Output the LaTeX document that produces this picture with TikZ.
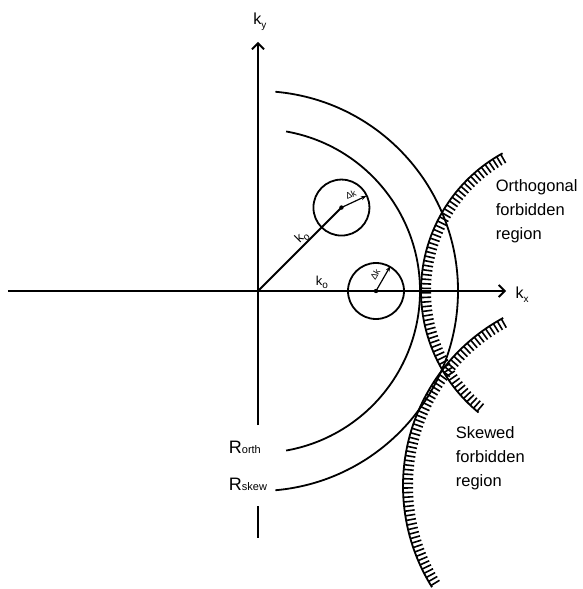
\documentclass[tikz,border=0pt]{standalone}
\usepackage{fontspec}
\setmainfont{Liberation Sans}
\usetikzlibrary{arrows.meta}

\newcommand{\lowsub}[1]{\raisebox{-0.45ex}{\fontsize{10}{10}\selectfont #1}}
\newcommand{\rsub}[1]{\raisebox{-0.5pt}{\fontsize{11}{11}\selectfont #1}}

\begin{document}
\begin{tikzpicture}[x=1pt, y=1pt, line width=1.8pt,
  axis/.style={-{Straight Barb[length=6pt,width=12pt]}},
  dk/.style={line width=1.2pt, -{Stealth[length=6pt,width=4pt]}},
  tick/.style={line width=1.6pt},
  klab/.style={inner sep=0pt, font=\fontsize{16}{16}\selectfont},
  rlab/.style={inner sep=0pt, anchor=base west, font=\fontsize{18}{18}\selectfont},
  dklab/.style={inner sep=0pt, font=\fontsize{9}{9}\selectfont},
  region/.style={inner sep=0pt, anchor=north west, align=left,
                 font=\fontsize{16.5}{24}\selectfont}]
\useasboundingbox (-258,-298) rectangle (324,291);

% axes
\coordinate (o) at (0,0);
\coordinate (xl) at (-250,0);
\coordinate (xr) at (248,0);
\coordinate (yb) at (0,-134);
\coordinate (yt) at (0,249);
\draw[axis] (xl) -- (xr);
\draw[axis] (yb) -- (yt);
\draw (0,-215) -- (0,-247);
\node[klab] (kx) at (264,-4) {k\lowsub{x}};
\node[klab] (ky) at (2,269) {k\lowsub{y}};

% R circles
\draw (80:162) arc[start angle=80, end angle=-80, radius=162];
\draw (85:200) arc[start angle=85, end angle=-85, radius=200];
\node[rlab] (rorth) at (-30,-162) {R\rsub{orth}};
\node[rlab] (rskew) at (-30,-199) {R\rsub{skew}};

% k_o circles
\coordinate (c1) at (45:118);
\coordinate (c2) at (118,0);
\draw (o) -- (c1);
\draw (c1) circle[radius=28];
\draw (c2) circle[radius=28];
\fill (c1) circle[radius=2.2];
\fill (c2) circle[radius=2.2];
\draw[dk] (c1) -- ++(25:28);
\draw[dk] (c2) -- ++(60:29);
\node[klab, font=\fontsize{13}{13}\selectfont] (ko1) at (64,9) {k\lowsub{o}};
\node[klab, font=\fontsize{13}{13}\selectfont, rotate=45] (ko2) at (44,54) {k\lowsub{o}};
\path (c1) ++(25:14) ++(115:8) node[dklab, rotate=25] (dk1) {Δk};
\path (c2) ++(60:14) ++(150:9) node[dklab, rotate=60] (dk2) {Δk};

% forbidden regions
\coordinate (oc) at (320,0);
\coordinate (sc) at (336,-195);
\draw (oc) ++(118.7:157) arc[start angle=118.7, end angle=230.7, radius=157];
\foreach \a in {119.5,121.2,...,230.5}
  \draw[tick] (oc) ++(\a:157) -- ++(\a+180:10);
\draw (sc) ++(118.4:191) arc[start angle=118.4, end angle=212, radius=191];
\foreach \a in {119,120.4,...,211.5}
  \draw[tick] (sc) ++(\a:191) -- ++(\a+180:10);

\node[region] (orth) at (237,112) {Orthogonal\\forbidden\\region};
\node[region] (skew) at (197,-135) {Skewed\\forbidden\\region};
\end{tikzpicture}
\end{document}
